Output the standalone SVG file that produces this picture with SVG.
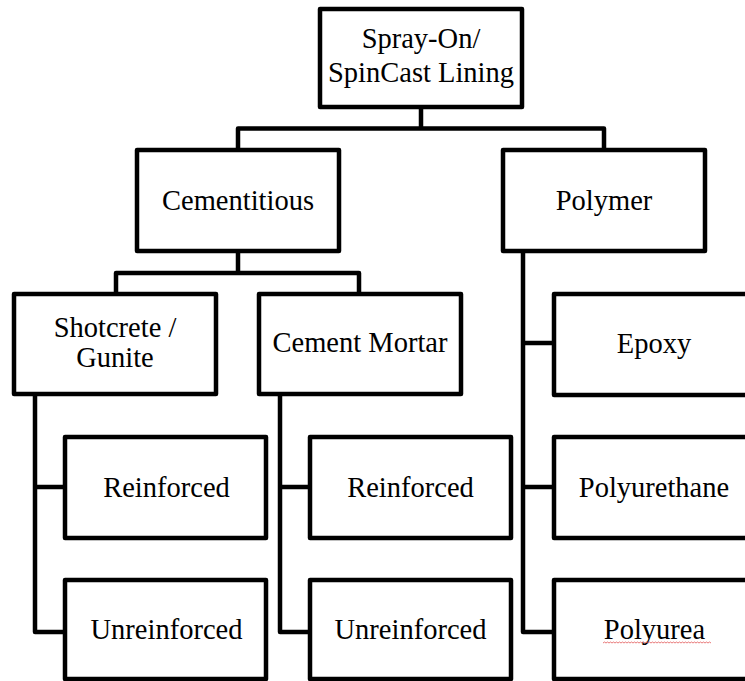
<svg xmlns="http://www.w3.org/2000/svg" width="745" height="681" viewBox="0 0 745 681">
<style>
.box{fill:#fff;stroke:#000;stroke-width:4.5;stroke-linejoin:round}
.con{fill:none;stroke:#000;stroke-width:4.5;stroke-linejoin:round}
.t{font-family:'Liberation Serif','Tinos','Times New Roman','Noto Serif','DejaVu Serif',serif;font-size:28.5px;fill:#000;text-anchor:middle}
</style>
<rect width="745" height="681" fill="#fff"/>
<g id="connectors">
<path class="con" d="M421 107 V128.5 M238 150 V128.5 H604 V150"/>
<path class="con" d="M238 251 V273 M116 294 V273 H359 V294"/>
<path class="con" d="M523 251 V632 H554 M523 343 H554 M523 487 H554"/>
<path class="con" d="M35 394 V632 H65 M35 487 H65"/>
<path class="con" d="M280 394 V632 H310 M280 487 H310"/>
</g>
<g class="t">
<g id="root"><rect class="box" x="320" y="9" width="202" height="98"/><text x="421" y="48">Spray-On/</text><text x="421" y="82">SpinCast Lining</text></g>
<g id="cementitious"><rect class="box" x="137" y="150" width="202" height="101"/><text x="238" y="210">Cementitious</text></g>
<g id="polymer"><rect class="box" x="503" y="150" width="202" height="101"/><text x="604" y="210">Polymer</text></g>
<g id="shotcrete"><rect class="box" x="14" y="294" width="202" height="100"/><text x="115" y="337">Shotcrete /</text><text x="115" y="367">Gunite</text></g>
<g id="cement-mortar"><rect class="box" x="259" y="294" width="202" height="100"/><text x="360" y="352">Cement Mortar</text></g>
<g id="shot-reinforced"><rect class="box" x="65" y="437" width="201" height="101"/><text x="166.5" y="497">Reinforced</text></g>
<g id="shot-unreinforced"><rect class="box" x="65" y="580" width="201" height="99"/><text x="166.5" y="639">Unreinforced</text></g>
<g id="mortar-reinforced"><rect class="box" x="310" y="437" width="201" height="101"/><text x="410.5" y="497">Reinforced</text></g>
<g id="mortar-unreinforced"><rect class="box" x="310" y="580" width="201" height="99"/><text x="410.5" y="639">Unreinforced</text></g>
<g id="epoxy"><rect class="box" x="554" y="294" width="201" height="101"/><text x="654" y="353">Epoxy</text></g>
<g id="polyurethane"><rect class="box" x="554" y="437" width="201" height="101"/><text x="654" y="497">Polyurethane</text></g>
<g id="polyurea"><rect class="box" x="554" y="580" width="201" height="99"/><text x="654.5" y="639">Polyurea</text>
<path d="M603 643 l1.5 -1 l1.5 1 l1.5 -1 l1.5 1 l1.5 -1 l1.5 1 l1.5 -1 l1.5 1 l1.5 -1 l1.5 1 l1.5 -1 l1.5 1 l1.5 -1 l1.5 1 l1.5 -1 l1.5 1 l1.5 -1 l1.5 1 l1.5 -1 l1.5 1 l1.5 -1 l1.5 1 l1.5 -1 l1.5 1 l1.5 -1 l1.5 1 l1.5 -1 l1.5 1 l1.5 -1 l1.5 1 l1.5 -1 l1.5 1 l1.5 -1 l1.5 1 l1.5 -1 l1.5 1 l1.5 -1 l1.5 1 l1.5 -1 l1.5 1 l1.5 -1 l1.5 1 l1.5 -1 l1.5 1 l1.5 -1 l1.5 1 l1.5 -1 l1.5 1 l1.5 -1 l1.5 1 l1.5 -1 l1.5 1 l1.5 -1 l1.5 1 l1.5 -1 l1.5 1 l1.5 -1 l1.5 1 l1.5 -1 l1.5 1 l1.5 -1 l1.5 1 l1.5 -1 l1.5 1 l1.5 -1 l1.5 1 l1.5 -1 l1.5 1 l1.5 -1 l1.5 1 l1.5 -1 l1.5 1" fill="none" stroke="#e04040" stroke-width="0.7"/></g>
</g>
</svg>
